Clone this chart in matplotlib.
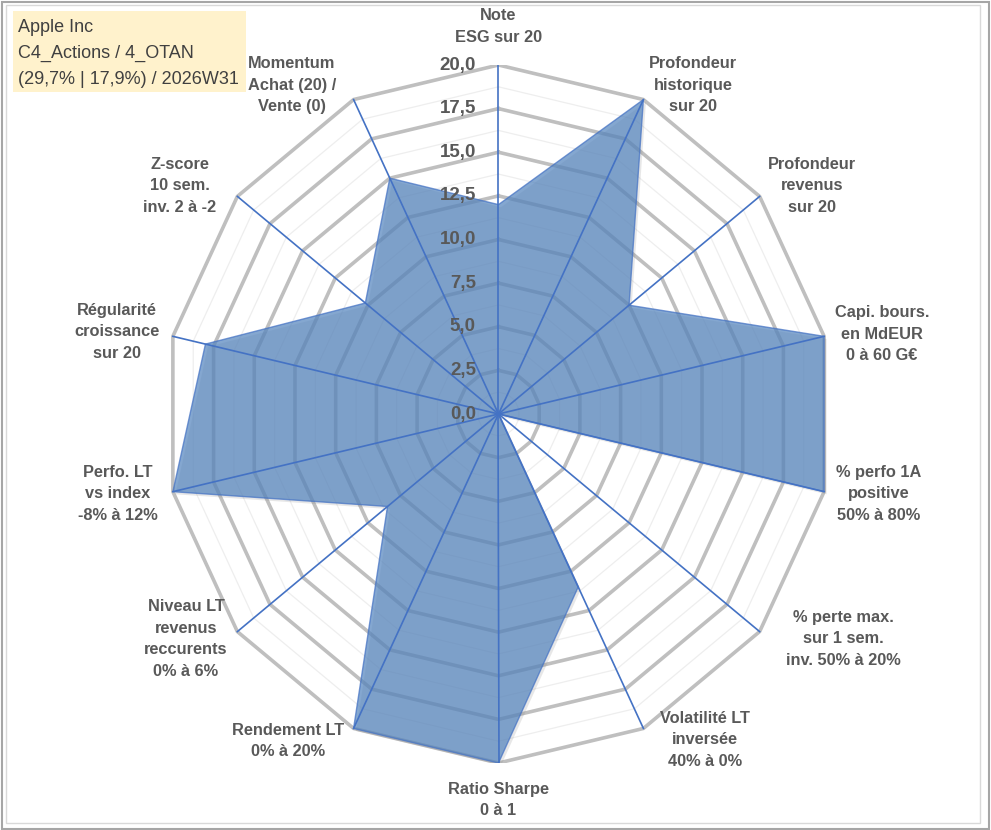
import numpy as np
import matplotlib
matplotlib.use("Agg")
from matplotlib import pyplot as plt
from matplotlib.patches import Polygon, Rectangle

plt.rcParams['font.family'] = ['Liberation Sans', 'DejaVu Sans']

# chart data
categories = [
    "Note\nESG sur 20",
    "Profondeur\nhistorique\nsur 20",
    "Profondeur\nrevenus\nsur 20",
    "Capi. bours.\nen MdEUR\n0 à 60 G€",
    "% perfo 1A\npositive\n50% à 80%",
    "% perte max.\nsur 1 sem.\ninv. 50% à 20%",
    "Volatilité LT\ninversée\n40% à 0%",
    "Ratio Sharpe\n0 à 1",
    "Rendement LT\n0% à 20%",
    "Niveau LT\nrevenus\nreccurents\n0% à 6%",
    "Perfo. LT\nvs index\n-8% à 12%",
    "Régularité\ncroissance\nsur 20",
    "Z-score\n10 sem.\ninv. 2 à -2",
    "Momentum\nAchat (20) /\nVente (0)",
]
scores = [12.0, 20.0, 10.0, 20.0, 20.0, 0.0, 11.0, 20.0, 20.0, 8.5, 20.0, 18.0, 10.2, 15.0]
tick_values = [0, 2.5, 5, 7.5, 10, 12.5, 15, 17.5, 20]
title_lines = ["Apple Inc", "C4_Actions / 4_OTAN", "(29,7% | 17,9%) / 2026W31"]

# label centres (data units) - layout only
LABEL_XY = [
    (0.0, 22.2), (11.65, 18.85), (18.77, 13.07), (22.96, 4.58),
    (22.78, -4.58), (20.63, -12.89), (12.37, -18.68), (0.0, -22.12),
    (-12.6, -18.74), (-18.71, -12.89), (-22.78, -4.58), (-22.84, 4.70),
    (-19.07, 13.07), (-12.37, 18.85),
]

TEXT_GREY = "#595959"
BLUE = "#4472C4"
R_MAX = 20.0

n = len(categories)
angles = np.arange(n) * 2 * np.pi / n
sx, sy = np.sin(angles), np.cos(angles)

fig = plt.figure(figsize=(9.91, 8.30), dpi=100)
ax = fig.add_axes([164.5 / 991, 67 / 830, 668 / 991, 698 / 830])
ax.set_xlim(-R_MAX, R_MAX)
ax.set_ylim(-R_MAX, R_MAX)
ax.axis("off")

# minor rings
for r in np.arange(1.25, R_MAX + 0.01, 2.5):
    ax.plot(np.append(r * sx, r * sx[0]), np.append(r * sy, r * sy[0]),
            color="#EEEEEE", lw=0.9, zorder=1)
# major rings
for r in tick_values[1:]:
    ax.plot(np.append(r * sx, r * sx[0]), np.append(r * sy, r * sy[0]),
            color="#BFBFBF", lw=2.6, zorder=2, solid_joinstyle="miter")

vals = np.array(scores)
pts = np.column_stack([vals * sx, vals * sy])
# soft shadow
shadow = Polygon(pts + np.array([0.15, -0.15]), closed=True, facecolor="#7F7F7F",
                 alpha=0.18, edgecolor="none", zorder=2.5)
ax.add_patch(shadow)
poly = Polygon(pts, closed=True, facecolor="#5585BE", alpha=0.72,
               edgecolor=BLUE, lw=1.0, zorder=3)
ax.add_patch(poly)

# spokes
for a, b in zip(sx, sy):
    ax.plot([0, R_MAX * a], [0, R_MAX * b], color=BLUE, lw=1.2, zorder=5)

# radial tick labels
for t in tick_values:
    ax.text(-1.35, t, f"{t:.1f}".replace(".", ","), ha="right", va="center",
            fontsize=13.5, fontweight="bold", color=TEXT_GREY, zorder=6)

# category labels
for lab, (x, y) in zip(categories, LABEL_XY):
    ax.text(x, y, lab, ha="center", va="center", fontsize=11.8,
            fontweight="bold", color=TEXT_GREY, linespacing=1.55,
            clip_on=False, zorder=6)

# title box
fig.patches.append(Rectangle((13 / 991, 1 - 92 / 830), 233 / 991, 81 / 830,
                             transform=fig.transFigure, facecolor="#FFF2CC",
                             edgecolor="none", zorder=0))
for i, line in enumerate(title_lines):
    fig.text(18 / 991, 1 - (27 + 26.5 * i) / 830, line, ha="left", va="center",
             fontsize=13, color="#404040")

# frames
fig.patches.append(Rectangle((6 / 991, 1 - 823 / 830), 974 / 991, 818 / 830,
                             transform=fig.transFigure, facecolor="none",
                             edgecolor="#D9D9D9", lw=1.0))
fig.patches.append(Rectangle((1.5 / 991, 1.5 / 830), 987 / 991, 826 / 830,
                             transform=fig.transFigure, facecolor="none",
                             edgecolor="#A6A6A6", lw=1.5))

fig.savefig("out.png", dpi=100)
